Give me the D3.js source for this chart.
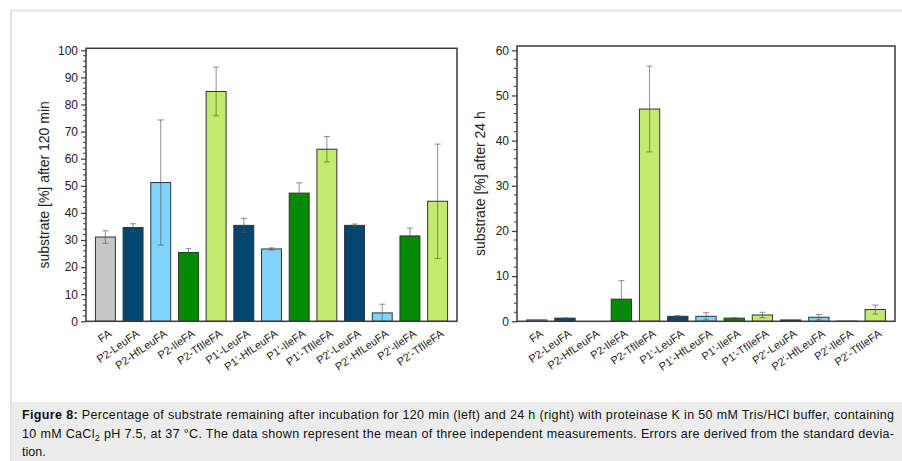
<!DOCTYPE html>
<html>
<head>
<meta charset="utf-8">
<script src="https://cdn.jsdelivr.net/npm/d3@7"></script>
<style>
  html, body { margin: 0; padding: 0; background: #fff; }
  svg { display: block; font-family: "Liberation Sans", Arial, sans-serif; }
</style>
</head>
<body>
<svg id="fig" width="902" height="461"></svg>
<script>
// Substrates tested
const categories = [
  "FA", "P2-LeuFA", "P2-HfLeuFA", "P2-IleFA", "P2-TfIleFA",
  "P1'-LeuFA", "P1'-HfLeuFA", "P1'-IleFA", "P1'-TfIleFA",
  "P2'-LeuFA", "P2'-HfLeuFA", "P2'-IleFA", "P2'-TfIleFA"
];
// Amino-acid group of each substrate (sets the bar colour)
const groups = [
  "ref", "Leu", "HfLeu", "Ile", "TfIle",
  "Leu", "HfLeu", "Ile", "TfIle",
  "Leu", "HfLeu", "Ile", "TfIle"
];
const groupNames = ["ref", "Leu", "HfLeu", "Ile", "TfIle"];
const groupColors = ["#c6c6c6", "#00466e", "#82d3fb", "#008c00", "#c2ea6c"];

// Remaining substrate [%] after 120 min, mean and standard deviation
const mean120 = [31.1, 34.6, 51.2, 25.4, 84.8, 35.4, 26.7, 47.3, 63.5, 35.4, 3.1, 31.5, 44.3];
const sd120   = [2.3, 1.4, 23.1, 1.4, 9.0, 2.6, 0.4, 3.8, 4.7, 0.5, 3.2, 2.9, 21.1];

// Remaining substrate [%] after 24 h, mean and standard deviation
const mean24 = [0.3, 0.7, 0, 4.9, 47.0, 1.1, 1.1, 0.7, 1.4, 0.3, 0.9, 0.05, 2.6];
const sd24   = [0, 0.05, 0, 4.1, 9.5, 0.2, 0.8, 0.1, 0.6, 0, 0.6, 0, 1.0];

// Axis ticks
const ticks120 = [0, 10, 20, 30, 40, 50, 60, 70, 80, 90, 100];
const ticks24 = [0, 10, 20, 30, 40, 50, 60];

const svg = d3.select("#fig");
const color = d3.scaleOrdinal().domain(groupNames).range(groupColors);

// Page frame and caption panel
svg.append("rect")
  .attr("x", 11).attr("y", 10.5).attr("width", 900).attr("height", 460)
  .attr("fill", "none").attr("stroke", "#e4e4e4").attr("stroke-width", 2);
svg.append("rect")
  .attr("x", 12).attr("y", 402).attr("width", 890).attr("height", 59)
  .attr("fill", "#ececec");

function panel(opts) {
  const { left, right, top, yTop, bottom, yMax, means, sds, ticks, title, titleX } = opts;
  const g = svg.append("g");

  const x = d3.scalePoint().domain(categories).range([left, right]).padding(0.7);
  const bw = x.step() * 0.72;
  const y = d3.scaleLinear().domain([0, yMax]).range([bottom, yTop]);

  // bars
  g.append("g").selectAll("rect")
    .data(categories)
    .join("rect")
    .attr("x", d => x(d) - bw / 2)
    .attr("y", (d, i) => y(means[i]))
    .attr("width", bw)
    .attr("height", (d, i) => y(0) - y(means[i]))
    .attr("fill", (d, i) => color(groups[i]))
    .attr("stroke", (d, i) => means[i] > 0 ? "#333" : "none")
    .attr("stroke-width", 1);

  // error bars
  const eb = g.append("g")
    .attr("stroke", "#555").attr("stroke-opacity", 0.65).attr("stroke-width", 1);
  categories.forEach((c, i) => {
    if (sds[i] <= 0) return;
    const cx = x(c);
    const y1 = y(means[i] + sds[i]);
    const y2 = y(Math.max(0, means[i] - sds[i]));
    eb.append("line").attr("x1", cx).attr("x2", cx).attr("y1", y1).attr("y2", y2);
    eb.append("line").attr("x1", cx - 3).attr("x2", cx + 3).attr("y1", y1).attr("y2", y1);
    eb.append("line").attr("x1", cx - 3).attr("x2", cx + 3).attr("y1", y2).attr("y2", y2);
  });

  // plot frame
  g.append("rect")
    .attr("x", left).attr("y", top)
    .attr("width", right - left).attr("height", bottom - top)
    .attr("fill", "none").attr("stroke", "#3a3a3a").attr("stroke-width", 1.5);

  // y axis: major ticks with labels, minor ticks every 2
  const yAxis = d3.axisLeft(y).tickValues(ticks).tickSize(5).tickPadding(3);
  const ya = g.append("g").attr("transform", `translate(${left},0)`).call(yAxis);
  ya.select(".domain").remove();
  ya.selectAll(".tick line").attr("stroke", "#3a3a3a").attr("stroke-width", 1.2);
  ya.selectAll(".tick text").attr("font-size", 12).attr("fill", "#222")
    .attr("font-family", "Liberation Sans, Arial, sans-serif");

  const minor = d3.range(0, yMax + 0.001, 2).filter(v => v % 10 !== 0);
  g.append("g").selectAll("line")
    .data(minor)
    .join("line")
    .attr("x1", left - 3).attr("x2", left)
    .attr("y1", d => y(d)).attr("y2", d => y(d))
    .attr("stroke", "#3a3a3a").attr("stroke-width", 1);

  // x labels, rotated
  g.append("g").selectAll("text")
    .data(categories)
    .join("text")
    .attr("transform", d => `translate(${x(d) + 7},${bottom + 14}) rotate(-35)`)
    .attr("text-anchor", "end")
    .attr("font-size", 11)
    .attr("fill", "#222")
    .text(d => d);

  // y title
  g.append("text")
    .attr("transform", `translate(${titleX},${(top + bottom) / 2}) rotate(-90)`)
    .attr("text-anchor", "middle")
    .attr("dy", "0.35em")
    .attr("font-size", 14)
    .attr("fill", "#222")
    .text(title);
}

panel({
  left: 86, right: 457, top: 48.3, yTop: 50.3, bottom: 321.3, yMax: 100,
  means: mean120, sds: sd120, ticks: ticks120,
  title: "substrate [%] after 120 min", titleX: 44
});

panel({
  left: 517, right: 895, top: 46, yTop: 50.3, bottom: 321.3, yMax: 60,
  means: mean24, sds: sd24, ticks: ticks24,
  title: "substrate [%] after 24 h", titleX: 480
});

// Caption
const cap = svg.append("g").attr("font-size", 12.5).attr("fill", "#111");
const l1 = cap.append("text").attr("x", 22).attr("y", 419)
  .attr("textLength", 872).attr("lengthAdjust", "spacing");
l1.append("tspan").attr("font-weight", "bold").text("Figure 8:");
l1.append("tspan").text(" Percentage of substrate remaining after incubation for 120 min (left) and 24 h (right) with proteinase K in 50 mM Tris/HCl buffer, containing");

const l2 = cap.append("text").attr("x", 22).attr("y", 438)
  .attr("textLength", 872).attr("lengthAdjust", "spacing");
l2.append("tspan").text("10 mM CaCl");
l2.append("tspan").attr("font-size", 9).attr("dy", 3).text("2");
l2.append("tspan").attr("dy", -3).text(" pH 7.5, at 37 °C. The data shown represent the mean of three independent measurements. Errors are derived from the standard devia-");

cap.append("text").attr("x", 22).attr("y", 456).text("tion.");
</script>
</body>
</html>
